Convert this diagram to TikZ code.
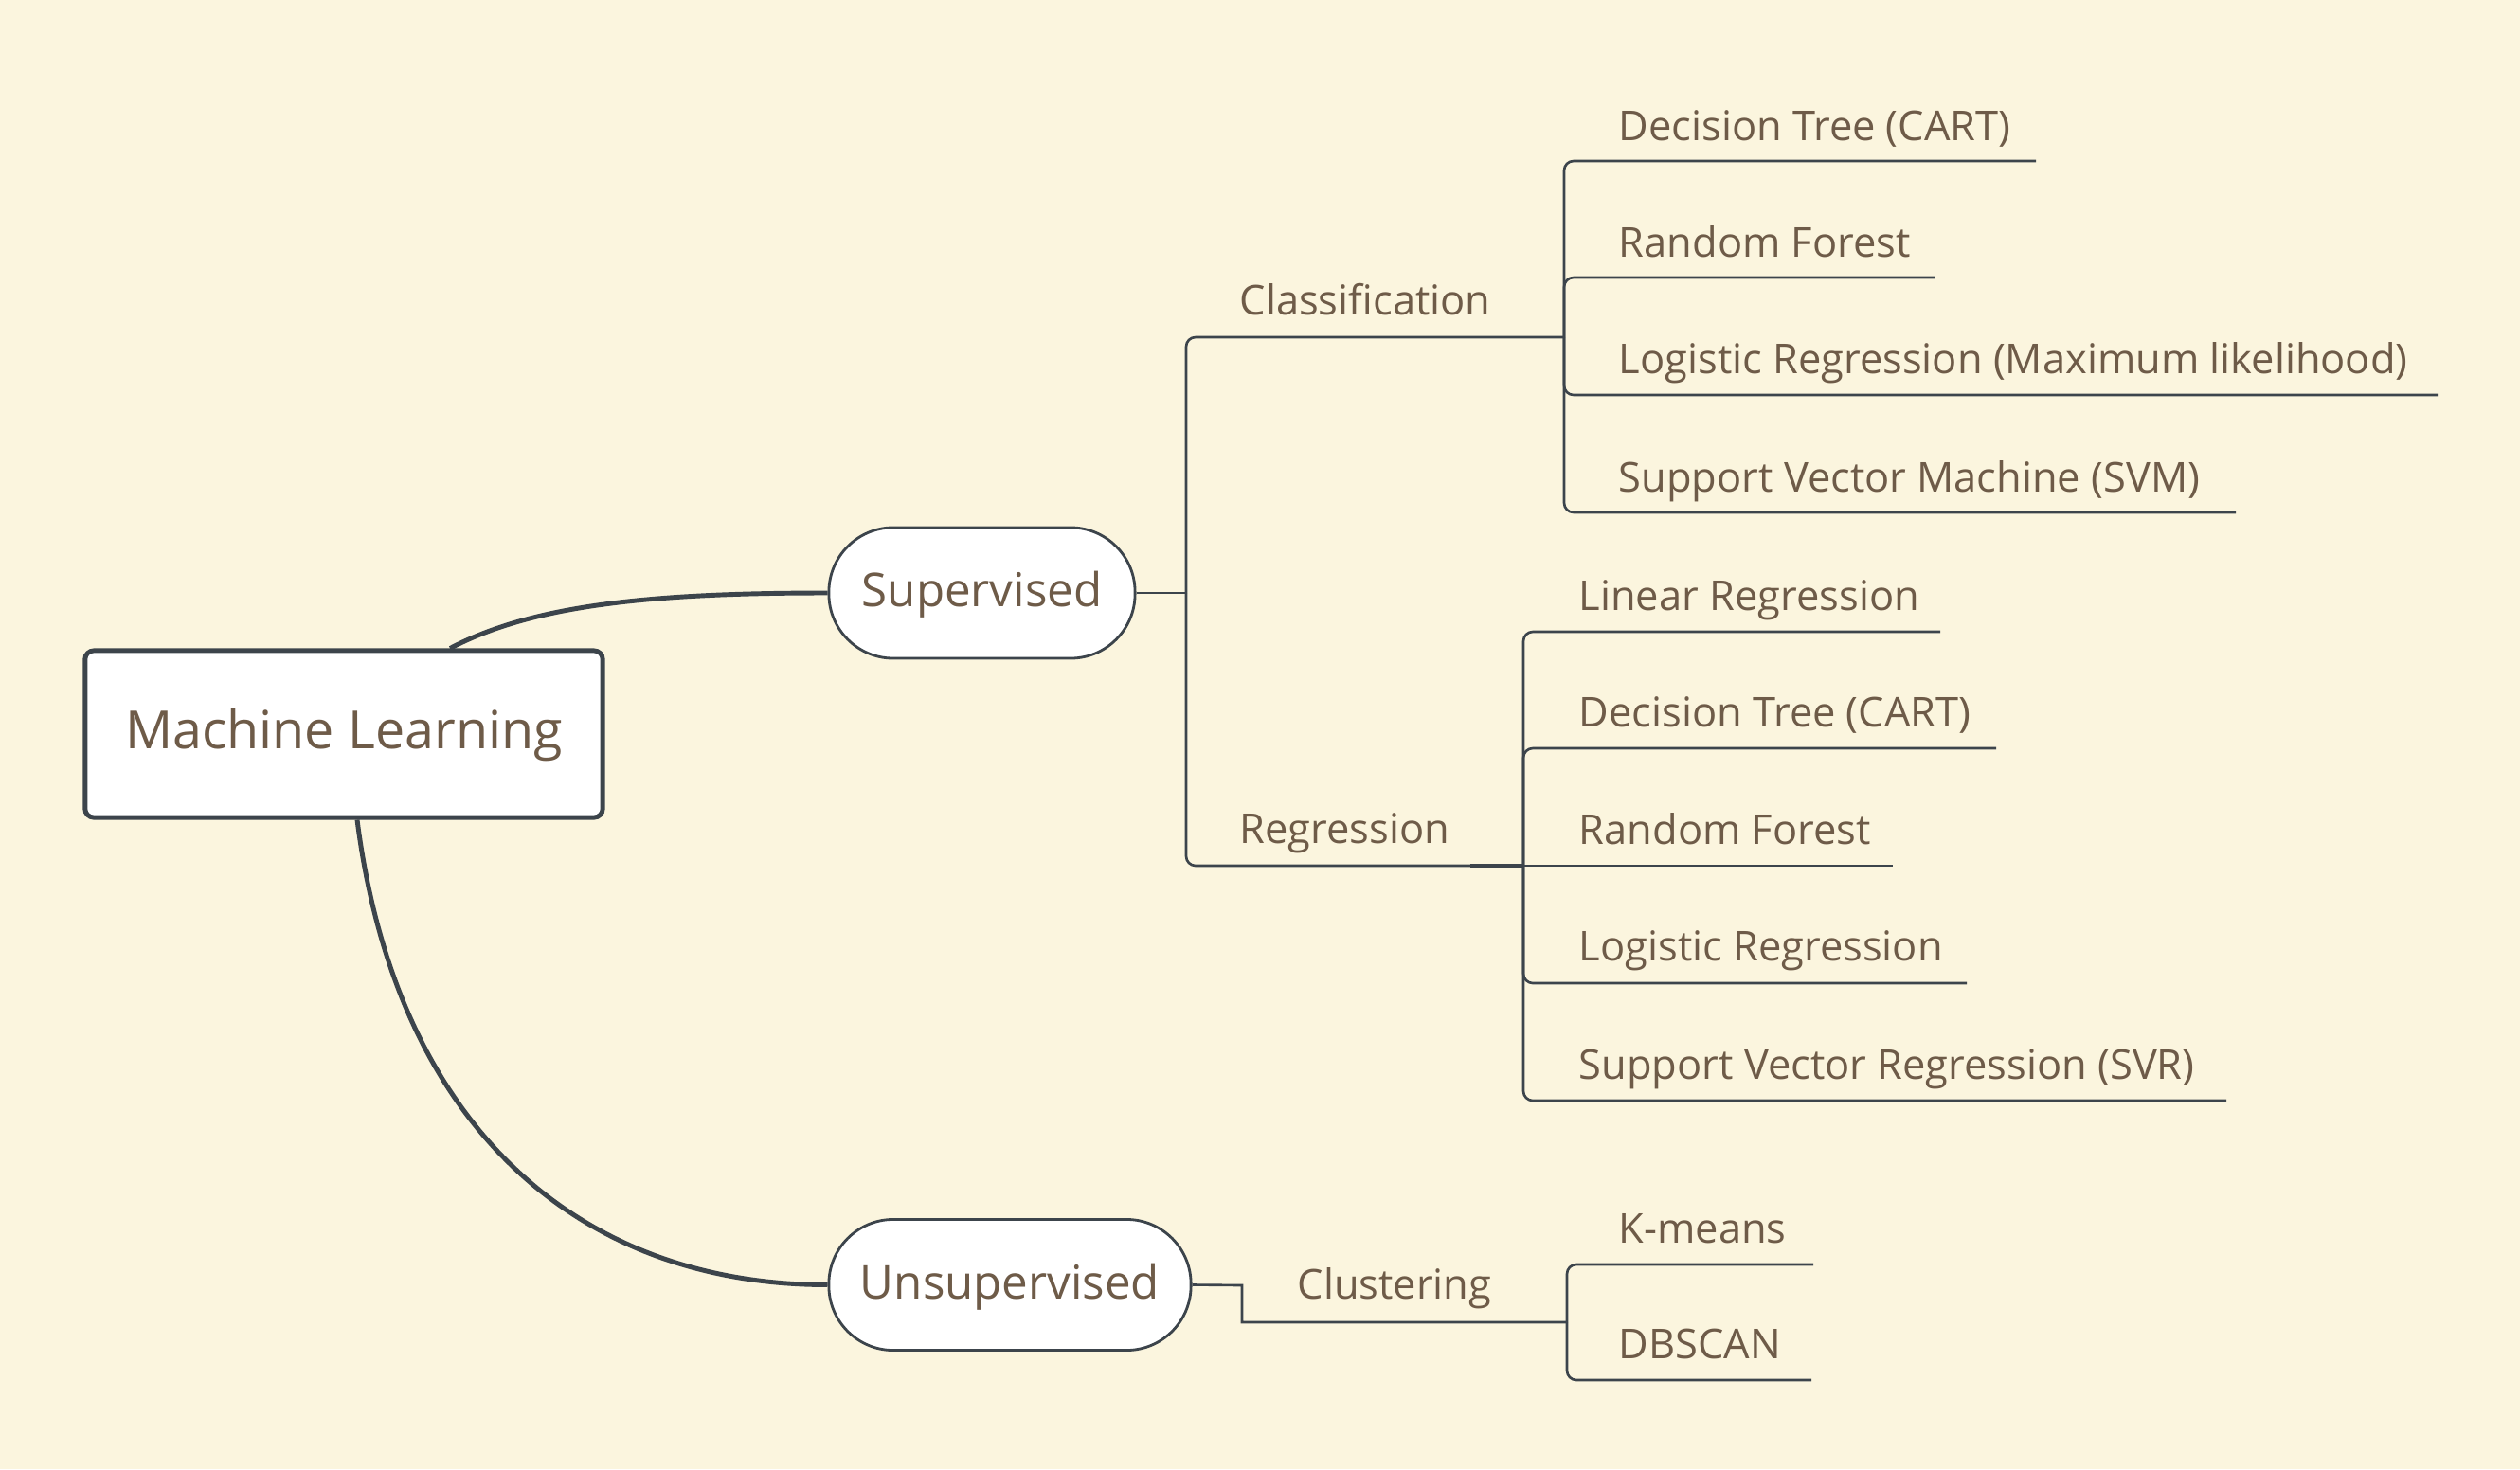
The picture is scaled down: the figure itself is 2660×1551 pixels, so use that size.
\documentclass[tikz,border=0pt]{standalone}
\usepackage{fontspec}
\setmainfont{Open Sans}
\definecolor{bgc}{RGB}{251,245,222}
\definecolor{linec}{RGB}{60,68,75}
\definecolor{txtc}{RGB}{110,91,72}
\tikzset{
  rootbox/.style={draw=linec, line width=1.4pt, fill=white, rounded corners=0.09cm,
    minimum width=5.46cm, minimum height=1.76cm, inner sep=0pt, text=txtc,
    text height=1.1em, text depth=0.2em,
    font=\fontsize{15.8}{18}\selectfont},
  topicbox/.style={draw=linec, line width=0.8pt, fill=white, rounded corners=0.68cm,
    minimum height=1.38cm, inner sep=0pt, text=txtc,
    text height=1.05em, text depth=0.2em,
    font=\fontsize{14}{16}\selectfont},
  leaftxt/.style={anchor=base west, inner sep=0pt, text=txtc,
    font=\fontsize{12.35}{14}\selectfont},
  mainconn/.style={draw=linec, line width=1.4pt},
  conn/.style={draw=linec, line width=0.75pt, rounded corners=0.1cm},
}
\begin{document}
\begin{tikzpicture}[x=0.01cm, y=-0.01cm]
\fill[bgc] (0,0) rectangle (2660,1551);
\useasboundingbox (0,0) rectangle (2660,1551);

% main nodes
\node[rootbox] (ml) at (363,775) {Machine Learning};
\node[topicbox, minimum width=3.23cm] (sup) at (1036.5,626) {Supervised};
\node[topicbox, minimum width=3.82cm] (unsup) at (1066,1356.5) {Unsupervised};

% main curves
\draw[mainconn] ([xshift=1.12cm]ml.north) .. controls (560,640) and (680,626) .. (sup.west);
\draw[mainconn] ([xshift=0.14cm]ml.south) .. controls (420,1200) and (620,1356.5) .. (unsup.west);

% supervised branch
\coordinate (sj) at (1252,626);
\coordinate (cj) at (1651,356);
\coordinate (rj) at (1608,914);
\draw[conn] (sup.east) -- (sj);
\draw[conn] (sj) |- (cj);
\draw[conn] (sj) |- (rj);
\draw[conn, line width=1.0pt] (1552,914) -- (rj);
\node[leaftxt] (cls) at (1308,332) {Classification};
\node[leaftxt] (reg) at (1308,890) {Regression};

% classification leaves
\coordinate (c1e) at (2149,170);
\coordinate (c2e) at (2042,293);
\coordinate (c3e) at (2573,417);
\coordinate (c4e) at (2360,541);
\draw[conn] (cj) |- (c1e);
\draw[conn] (cj) |- (c2e);
\draw[conn] (cj) |- (c3e);
\draw[conn] (cj) |- (c4e);
\node[leaftxt] (c1) at (1708,148) {Decision Tree (CART)};
\node[leaftxt] (c2) at (1708,271) {Random Forest};
\node[leaftxt] (c3) at (1708,394) {Logistic Regression (Maximum likelihood)};
\node[leaftxt] (c4) at (1708,519) {Support Vector Machine (SVM)};

% regression leaves
\coordinate (r1e) at (2048,667);
\coordinate (r2e) at (2107,790);
\coordinate (r3e) at (1998,914);
\coordinate (r4e) at (2076,1038);
\coordinate (r5e) at (2350,1162);
\draw[conn] (rj) |- (r1e);
\draw[conn] (rj) |- (r2e);
\draw[conn] (rj) -- (r3e);
\draw[conn] (rj) |- (r4e);
\draw[conn] (rj) |- (r5e);
\node[leaftxt] (r1) at (1666,644) {Linear Regression};
\node[leaftxt] (r2) at (1666,767) {Decision Tree (CART)};
\node[leaftxt] (r3) at (1666,891) {Random Forest};
\node[leaftxt] (r4) at (1666,1014) {Logistic Regression};
\node[leaftxt] (r5) at (1666,1139) {Support Vector Regression (SVR)};

% unsupervised branch
\coordinate (uj) at (1311,1357);
\coordinate (clj) at (1654,1396);
\draw[conn, sharp corners] (unsup.east) -- (uj) |- (clj);
\node[leaftxt] (clu) at (1369,1371) {Clustering};
\coordinate (k1e) at (1914,1335);
\coordinate (k2e) at (1912,1457);
\draw[conn] (clj) |- (k1e);
\draw[conn] (clj) |- (k2e);
\node[leaftxt] (k1) at (1708,1312) {K-means};
\node[leaftxt] (k2) at (1708,1434) {DBSCAN};
\end{tikzpicture}
\end{document}
